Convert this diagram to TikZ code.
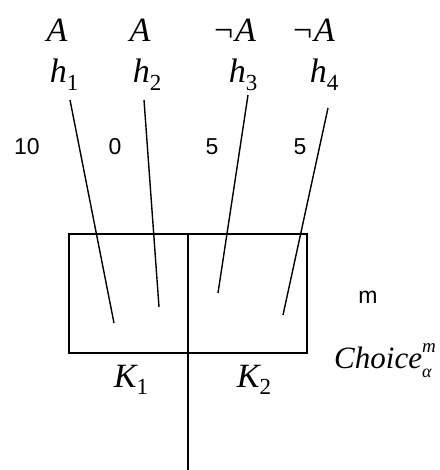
\RequirePackage{fix-cm}
\documentclass[tikz,border=0pt]{standalone}
\usepackage{fontspec}
\setmainfont{Liberation Serif}
\setsansfont{Liberation Sans}
\newcommand{\sbx}[1]{\raisebox{-0.22em}{\fontsize{23}{23}\selectfont\upshape #1}}
\newcommand{\spx}[1]{\raisebox{0.5em}{\fontsize{19}{19}\selectfont\itshape #1}}
\begin{document}
\begin{tikzpicture}[x=1pt,y=-1pt,
  lbl/.style={inner sep=0pt,anchor=base,font=\fontsize{34}{38}\selectfont\itshape},
  num/.style={inner sep=0pt,anchor=base,font=\sffamily\fontsize{23}{26}\selectfont},
  wire/.style={line width=1.4pt},
  boxline/.style={line width=2pt}]
\useasboundingbox (0,0) rectangle (439,470);
% labels
\node[lbl] (a1) at (57,42) {A};
\node[lbl] (a2) at (140,42) {A};
\node[lbl] (a3) at (235,42) {\upshape¬\kern2pt\itshape A};
\node[lbl] (a4) at (314,42) {\upshape¬\kern2pt\itshape A};
\node[lbl] (h1) at (64,83) {h\sbx{1}};
\node[lbl] (h2) at (147,83) {h\sbx{2}};
\node[lbl] (h3) at (243,83) {h\sbx{3}};
\node[lbl] (h4) at (324,83) {h\sbx{4}};
\node[num] (n1) at (27,155) {10};
\node[num] (n2) at (115,155) {0};
\node[num] (n3) at (212,155) {5};
\node[num] (n4) at (300,155) {5};
% box
\node[boxline,draw,minimum width=238pt,minimum height=119pt,inner sep=0pt] (box) at (188,293.5) {};
\coordinate (mtop) at (box.north);
\coordinate (mbot) at (188,470);
\draw[boxline] (mtop) -- (mbot);
% wires
\coordinate (t1) at (70,100); \coordinate (b1) at (114,323);
\coordinate (t2) at (144,100); \coordinate (b2) at (159,307);
\coordinate (t3) at (248,95); \coordinate (b3) at (218,293);
\coordinate (t4) at (328,108); \coordinate (b4) at (283,315);
\draw[wire] (t1) -- (b1);
\draw[wire] (t2) -- (b2);
\draw[wire] (t3) -- (b3);
\draw[wire] (t4) -- (b4);
\node[lbl] (k1) at (131,387) {K\sbx{1}};
\node[lbl] (k2) at (254,387) {K\sbx{2}};
\node[num] (m) at (368,303) {m};
\node[lbl,anchor=base west,font=\fontsize{31}{34}\selectfont\itshape] (ch) at (334,368) {Choice\rlap{\spx{m}}\raisebox{-0.3em}{\fontsize{18}{18}\selectfont α}};
\end{tikzpicture}
\end{document}
